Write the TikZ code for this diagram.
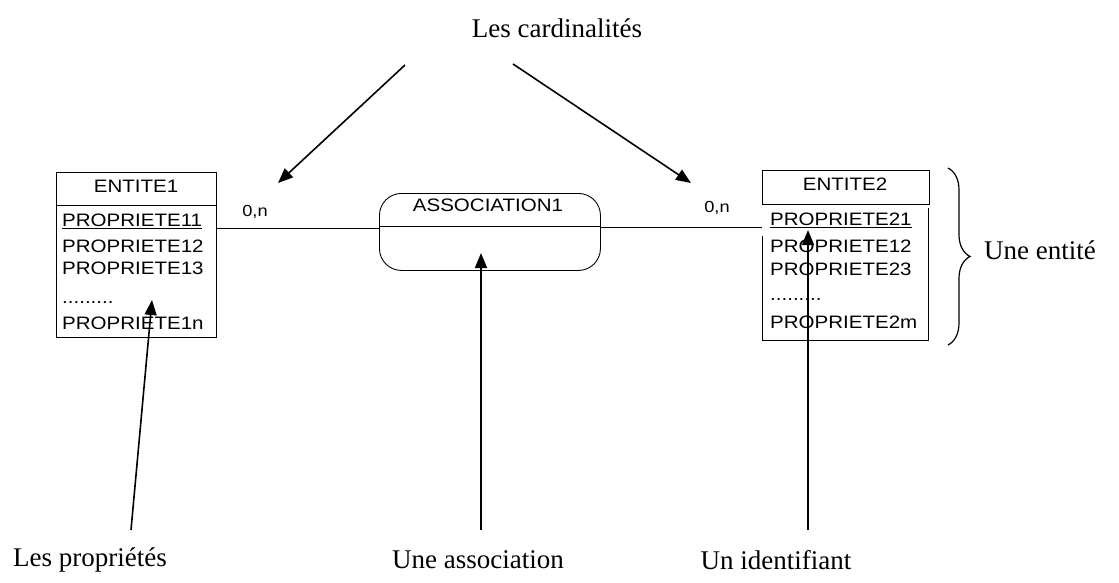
\documentclass[tikz,border=0pt]{standalone}
\usepackage{fontspec}
\setmainfont{Liberation Serif}
\newfontfamily\boxfont{Liberation Sans}
\usetikzlibrary{arrows.meta,decorations.pathreplacing}
\newcommand{\wide}[1]{\scalebox{1.14}[1]{#1}}
\begin{document}
\begin{tikzpicture}[x=1pt,y=-1pt,
  boxline/.style={line width=0.9pt},
  prop/.style={anchor=west,inner sep=0pt,font=\boxfont\fontsize{18}{18}\selectfont},
  card/.style={inner sep=0pt,font=\boxfont\fontsize{16}{16}\selectfont},
  caption/.style={inner sep=0pt,font=\fontsize{27}{27}\selectfont},
  pointer/.style={line width=1.6pt,-{Triangle[length=15pt,width=12pt]}}]
\useasboundingbox (0,0) rectangle (1119,582);

% ---- entity 1 ----
\node[draw,boxline,minimum width=160pt,minimum height=165pt,anchor=north west,inner sep=0pt] (e1) at (56,172) {};
\draw[boxline] (56,205) -- (216,205);
\node[prop,anchor=center] (e1t) at (136,186) {\wide{ENTITE1}};
\node[prop] (p11) at (62,221) {\wide{\underline{PROPRIETE11}}};
\node[prop] (p12) at (62,246) {\wide{PROPRIETE12}};
\node[prop] (p13) at (62,268) {\wide{PROPRIETE13}};
\node[prop] (d1) at (62,303) {\wide{.........}};
\node[prop] (p1n) at (62,323) {\wide{PROPRIETE1n}};

% ---- association ----
\node[draw,boxline,rounded corners=22pt,minimum width=221pt,minimum height=77pt,anchor=north west,inner sep=0pt] (a1) at (379,193) {};
\draw[boxline] (379,226) -- (600,226);
\node[prop,anchor=center] (a1t) at (488,205) {\wide{ASSOCIATION1}};

% ---- entity 2 ----
\node[draw,boxline,minimum width=167pt,minimum height=34pt,anchor=north west,inner sep=0pt] (e2) at (762,170) {};
\node[prop,anchor=center] (e2t) at (845,184) {\wide{ENTITE2}};
\coordinate (e2a) at (762,236);
\coordinate (e2b) at (762,340);
\coordinate (e2c) at (928,340);
\coordinate (e2d) at (928,208);
\draw[boxline] (e2a) -- (e2b) -- (e2c) -- (e2d);
\node[prop] (p21) at (770,220) {\wide{\underline{PROPRIETE21}}};
\node[prop] (p22) at (770,246) {\wide{PROPRIETE12}};
\node[prop] (p23) at (770,269) {\wide{PROPRIETE23}};
\node[prop] (d2) at (770,300) {\wide{.........}};
\node[prop] (p2m) at (770,322) {\wide{PROPRIETE2m}};

% ---- links between entities and association ----
\draw[boxline] (e1.east |- 0,228) -- (a1.west |- 0,228);
\draw[boxline] (a1.east |- 0,227) -- (e2a |- 0,227);
\node[card] (n1) at (255,212) {\wide{0,n}};
\node[card] (n2) at (717,208) {\wide{0,n}};

% ---- brace ----
\draw[line width=1.2pt,decorate,decoration={brace,amplitude=22pt}] (948,168) -- (948,345);
\node[caption,anchor=west] (ent) at (984,250) {Une entité};

% ---- captions and pointers ----
\node[caption] (cards) at (557,28) {Les cardinalités};
\coordinate (cl) at (405,65);
\coordinate (cr) at (513,64);
\draw[pointer] (cl) -- (278,183);
\draw[pointer] (cr) -- (691,183);

\node[caption] (lp) at (90,560) {Les propriétés};
\node[caption] (la) at (478,560) {Une association};
\node[caption] (li) at (776,560) {Un identifiant};
\coordinate (lpt) at (131,530);
\coordinate (lat) at (481,530);
\coordinate (lit) at (808,530);
\draw[pointer] (lpt) -- (152,300);
\draw[pointer] (lat) -- (481,253);
\draw[pointer] (lit) -- (808,230);
\end{tikzpicture}
\end{document}
